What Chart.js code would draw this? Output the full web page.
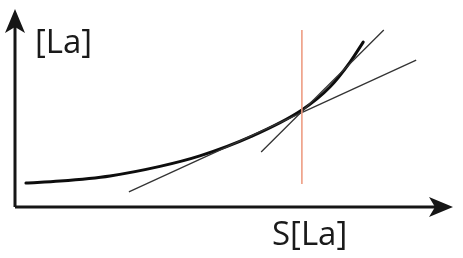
<!DOCTYPE html>
<html>
<head>
<meta charset="utf-8">
<script src="https://cdn.jsdelivr.net/npm/chart.js@4/dist/chart.umd.min.js"></script>
<style>
  html, body { margin: 0; padding: 0; background: #ffffff; }
  #wrap { width: 463px; height: 258px; position: relative; }
</style>
</head>
<body>
<div id="wrap"><canvas id="chart"></canvas></div>
<script>
// curve of [La] vs S[La] (arbitrary units)
const curveX = [0.25, 1.03, 2.17, 3.31, 4.22, 5.37, 6.55, 7.19, 7.65, 7.95];
const curveY = [1.21, 1.31, 1.57, 2.05, 2.58, 3.54, 4.90, 6.06, 7.32, 8.33];

// tangent at the marked point
const tangentX = [5.62, 8.42];
const tangentY = [2.78, 8.94];

// secant line
const secantX = [2.60, 9.16];
const secantY = [0.76, 7.42];

// vertical marker
const markerX = [6.55, 6.55];
const markerY = [1.16, 8.94];

const yLabel = '[La]';
const xLabel = 'S[La]';

const toPts = (xs, ys) => xs.map((x, i) => ({ x: x, y: ys[i] }));

// axes with arrow heads + axis labels
const axesPlugin = {
    id: 'axesArrows',
    afterDatasetsDraw(chart) {
        const c = chart.ctx;
        const xs = chart.scales.x, ys = chart.scales.y;
        const x0 = xs.getPixelForValue(0), y0 = ys.getPixelForValue(0);
        const xEnd = xs.getPixelForValue(xs.max), yEnd = ys.getPixelForValue(ys.max);
        c.save();
        c.strokeStyle = '#161616';
        c.fillStyle = '#161616';
        c.lineWidth = 3;
        c.beginPath();
        c.moveTo(x0, y0);
        c.lineTo(x0, yEnd + 14);
        c.moveTo(x0, y0);
        c.lineTo(xEnd - 14, y0);
        c.stroke();
        // y arrow
        c.beginPath();
        c.moveTo(x0, yEnd);
        c.lineTo(x0 - 10, yEnd + 24);
        c.lineTo(x0, yEnd + 18);
        c.lineTo(x0 + 10, yEnd + 24);
        c.closePath();
        c.fill();
        // x arrow
        c.beginPath();
        c.moveTo(xEnd, y0);
        c.lineTo(xEnd - 24, y0 - 10);
        c.lineTo(xEnd - 18, y0);
        c.lineTo(xEnd - 24, y0 + 10);
        c.closePath();
        c.fill();
        // labels
        c.font = '33px "Open Sans"';
        c.fillStyle = '#1a1a1a';
        c.textBaseline = 'alphabetic';
        c.textAlign = 'left';
        c.fillText(yLabel, x0 + 20, yEnd + 44);
        c.fillText(xLabel, x0 + 257, y0 + 38);
        c.restore();
    }
};

new Chart(document.getElementById('chart'), {
    type: 'scatter',
    data: {
        datasets: [
            {
                data: toPts(markerX, markerY),
                showLine: true,
                borderColor: '#ee9d82',
                borderWidth: 1.6,
                pointRadius: 0
            },
            {
                data: toPts(secantX, secantY),
                showLine: true,
                borderColor: '#333333',
                borderWidth: 1.3,
                pointRadius: 0
            },
            {
                data: toPts(tangentX, tangentY),
                showLine: true,
                borderColor: '#333333',
                borderWidth: 1.3,
                pointRadius: 0
            },
            {
                data: toPts(curveX, curveY),
                showLine: true,
                borderColor: '#0d0d0d',
                borderWidth: 3,
                borderCapStyle: 'round',
                cubicInterpolationMode: 'monotone',
                pointRadius: 0
            }
        ]
    },
    options: {
        responsive: true,
        maintainAspectRatio: false,
        animation: false,
        layout: { padding: { left: 15, right: 10, top: 9, bottom: 51 } },
        scales: {
            x: { type: 'linear', min: 0, max: 10, display: false },
            y: { type: 'linear', min: 0, max: 10, display: false }
        },
        plugins: {
            legend: { display: false },
            tooltip: { enabled: false }
        }
    },
    plugins: [axesPlugin]
});
</script>
</body>
</html>
